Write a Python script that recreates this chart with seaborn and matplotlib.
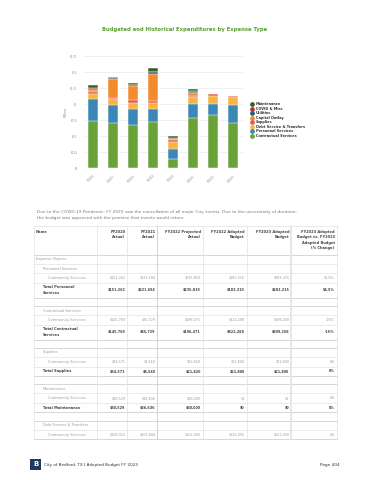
import matplotlib
matplotlib.use("Agg")
import matplotlib.pyplot as plt
from matplotlib.lines import Line2D
from matplotlib.patches import Rectangle
import seaborn as sns
import pandas as pd
import numpy as np

# ---- chart data (millions of dollars) ----
years = ['FY2016', 'FY2017', 'FY2018', 'FY2019', 'FY2020', 'FY2021', 'FY2022', 'FY2023']
contractual = [0.74, 0.70, 0.67, 0.72, 0.146, 0.78, 0.822, 0.699]
personnel = [0.33, 0.28, 0.245, 0.205, 0.151, 0.222, 0.183, 0.283]
debt_service = [0.08, 0.10, 0.10, 0.09, 0.108, 0.106, 0.122, 0.122]
supplies = [0.04, 0.02, 0.045, 0.035, 0.035, 0.009, 0.022, 0.022]
capital_outlay = [0.03, 0.295, 0.215, 0.42, 0.01, 0.05, 0.0, 0.0]
utilities = [0.015, 0.01, 0.015, 0.025, 0.01, 0.015, 0.0, 0.0]
covid_misc = [0.01, 0.005, 0.0, 0.0, 0.012, 0.015, 0.01, 0.0]
maintenance = [0.055, 0.015, 0.03, 0.06, 0.03, 0.037, 0.0, 0.0]

series_names = ['Contractual Services', 'Personnel Services', 'Debt Service & Transfers',
                'Supplies', 'Capital Outlay', 'Utilities', 'COVID & Misc', 'Maintenance']
series_values = [contractual, personnel, debt_service, supplies, capital_outlay,
                 utilities, covid_misc, maintenance]
series_colors = ['#6aa23a', '#3a87b8', '#f7b443', '#ea5a47', '#f38a2c',
                 '#2d5a78', '#ae3430', '#2f6128']

y_ticks = [0, 0.25, 0.5, 0.75, 1, 1.25, 1.5, 1.75]
y_tick_labels = ['$0', '$0.25', '$0.5', '$0.75', '$1', '$1.25', '$1.5', '$1.75']

# ---- table data ----
table_header = ['Name', 'FY2020\nActual', 'FY2021\nActual', 'FY2022 Projected\nActual',
                'FY2022 Adopted\nBudget', 'FY2023 Adopted\nBudget',
                'FY2023 Adopted\nBudget vs. FY2022\nAdopted Budget\n(% Change)']
table_rows = [
    ('Expense Objects', 'section0', None),
    ('Personnel Services', 'section', None),
    ('Community Services', 'item', ['$151,262', '$221,694', '$235,819', '$183,310', '$283,215', '54.5%']),
    ('Total Personnel\nServices', 'total', ['$151,262', '$221,694', '$235,819', '$183,310', '$283,215', '54.5%']),
    ('', 'blank', None),
    ('Contractual Services', 'section', None),
    ('Community Services', 'item', ['$145,769', '$85,729', '$196,471', '$822,288', '$699,258', '-15%']),
    ('Total Contractual\nServices', 'total', ['$145,769', '$85,729', '$196,471', '$822,288', '$699,258', '-15%']),
    ('', 'blank', None),
    ('Supplies', 'section', None),
    ('Community Services', 'item', ['$34,571', '$8,540', '$21,820', '$21,800', '$21,800', '0%']),
    ('Total Supplies', 'total', ['$34,571', '$8,540', '$21,820', '$21,800', '$21,800', '0%']),
    ('', 'blank', None),
    ('Maintenance', 'section', None),
    ('Community Services', 'item', ['$30,529', '$36,636', '$30,000', '$0', '$0', '0%']),
    ('Total Maintenance', 'total', ['$30,529', '$36,636', '$30,000', '$0', '$0', '0%']),
    ('', 'blank', None),
    ('Debt Service & Transfers', 'section', None),
    ('Community Services', 'item', ['$108,015', '$105,844', '$122,035', '$122,035', '$122,030', '0%']),
]

note_text = ("Due to the COVID-19 Pandemic, FY 2020 saw the cancellation of all major City events. "
             "Due to the uncertainty of duration,\nthe budget was approved with the premise that events would return.")

W, H = 370, 480


def fx(x):
    return x / W


def fy(y):
    return 1 - y / H


sns.set_theme(style='white')
plt.rcParams['font.family'] = ['DejaVu Sans']

fig = plt.figure(figsize=(W / 100, H / 100), dpi=100)
fig.patch.set_facecolor('white')

# ---- stacked bar chart ----
ax = fig.add_axes([fx(83), fy(168.3), (243 - 83) / W, (168.3 - 55.7) / H])
df = pd.DataFrame({name: vals for name, vals in zip(series_names, series_values)}, index=years)
cum = df.cumsum(axis=1)
# draw cumulative totals from the top layer down so each lower layer covers the one above
for name, color in reversed(list(zip(series_names, series_colors))):
    layer = pd.DataFrame({'year': years, 'value': cum[name].values})
    sns.barplot(data=layer, x='year', y='value', order=years, color=color, width=0.5,
                edgecolor='white', linewidth=0.35, saturation=1, ax=ax)

ax.set_ylim(0, 1.75)
ax.set_yticks(y_ticks)
ax.set_yticklabels(y_tick_labels)
ax.grid(axis='y', color='#ececec', linewidth=0.5)
ax.set_axisbelow(True)
for s in ax.spines.values():
    s.set_visible(False)
ax.tick_params(axis='both', length=0, labelsize=1.8, labelcolor='#8a8a8a', pad=4)
plt.setp(ax.get_xticklabels(), rotation=45, ha='right', rotation_mode='anchor')
ax.set_xlabel('')
ax.set_ylabel('Millions', fontsize=2.1, color='#8a8a8a', labelpad=2)

handles = [Line2D([], [], marker='o', linestyle='', color=c, markersize=2.4, label=n)
           for n, c in zip(series_names, series_colors)]
handles = handles[::-1]
fig.legend(handles=handles, loc='upper left', bbox_to_anchor=(fx(250.2), fy(102.3)),
           bbox_transform=fig.transFigure, frameon=False, labelspacing=0.15,
           handlelength=0.8, handletextpad=0.9, borderpad=0, borderaxespad=0,
           labelcolor='#333333', prop={'weight': 'bold', 'size': 2.5})

fig.text(fx(185), fy(30), 'Budgeted and Historical Expenditures by Expense Type',
         ha='center', va='center', fontsize=3.8, fontweight='bold', color='#5a9e31')

# ---- note ----
fig.text(fx(37), fy(210.5), note_text, ha='left', va='top', fontsize=3.1,
         color='#7a7a7a', linespacing=1.45)

# ---- table ----
col_edges = [34, 96.7, 127.3, 157.3, 202.7, 246.7, 291.3, 336.7]
top, head_bottom = 226, 254.7
row_h = {'section0': 9.2, 'section': 9.2, 'item': 9.5, 'blank': 8.3}
grid = '#dedede'
strong_grid = '#cccccc'

y_bounds = [head_bottom]
for label, kind, vals in table_rows:
    if kind == 'total':
        h = 15 if '\n' in label else 9.4
    else:
        h = row_h[kind]
    y_bounds.append(y_bounds[-1] + h)
bottom = y_bounds[-1]


def hline(y, x0, x1, color=grid, lw=0.45):
    fig.add_artist(Line2D([fx(x0), fx(x1)], [fy(y), fy(y)], color=color, lw=lw,
                          transform=fig.transFigure))


def vline(x, y0, y1, color=grid, lw=0.45):
    fig.add_artist(Line2D([fx(x), fx(x)], [fy(y0), fy(y1)], color=color, lw=lw,
                          transform=fig.transFigure))


hline(top, col_edges[0], col_edges[-1])
hline(head_bottom, col_edges[0], col_edges[-1], color=strong_grid, lw=0.55)
for i, (label, kind, vals) in enumerate(table_rows):
    y1 = y_bounds[i + 1]
    nxt = table_rows[i + 1][1] if i + 1 < len(table_rows) else None
    strong = kind == 'blank' or nxt == 'blank' or i + 1 == len(table_rows)
    hline(y1, col_edges[0], col_edges[-1], color=strong_grid if strong else grid,
          lw=0.55 if strong else 0.45)
for j, x in enumerate(col_edges):
    if j == 6:
        vline(x, top, bottom, color='#e4e4e4', lw=1.3)
    elif j == 3:
        vline(x, top, bottom, color='#cfcfcf', lw=0.65)
    else:
        vline(x, top, bottom)

# header
fig.text(fx(36), fy(229.9), table_header[0], ha='left', va='top', fontsize=2.6,
         fontweight='bold', color='#444444', linespacing=1.5)
for j, txt in enumerate(table_header[1:], start=1):
    fig.text(fx(col_edges[j + 1] - 2), fy(229.9), txt, ha='right', va='top', fontsize=2.6,
             fontweight='bold', color='#444444', linespacing=1.5)

indent = {'section0': 36, 'section': 43, 'item': 48, 'total': 43}
for i, (label, kind, vals) in enumerate(table_rows):
    if kind == 'blank':
        continue
    yc = (y_bounds[i] + y_bounds[i + 1]) / 2
    bold = kind == 'total'
    color = '#444444' if bold else '#9a9a9a'
    fig.text(fx(indent[kind]), fy(yc), label, ha='left', va='center', fontsize=2.6,
             fontweight='bold' if bold else 'normal', color=color, linespacing=1.5)
    if vals:
        for j, v in enumerate(vals):
            fig.text(fx(col_edges[j + 2] - 2), fy(yc), v, ha='right', va='center',
                     fontsize=2.4, fontweight='bold' if bold else 'normal', color=color)

# ---- footer ----
fig.add_artist(Rectangle((fx(30), fy(470)), 11 / W, 11.5 / H, transform=fig.transFigure,
                         facecolor='#1f3a5c', edgecolor='none'))
fig.text(fx(35.5), fy(464.3), 'B', ha='center', va='center', fontsize=5, fontweight='bold',
         color='white')
fig.text(fx(44.5), fy(465), 'City of Bedford, TX | Adopted Budget FY 2023', ha='left',
         va='center', fontsize=3.0, color='#333333')
fig.text(fx(340), fy(465), 'Page 404', ha='right', va='center', fontsize=3.1, color='#333333')

fig.savefig('out.png', dpi=100, facecolor='white')
